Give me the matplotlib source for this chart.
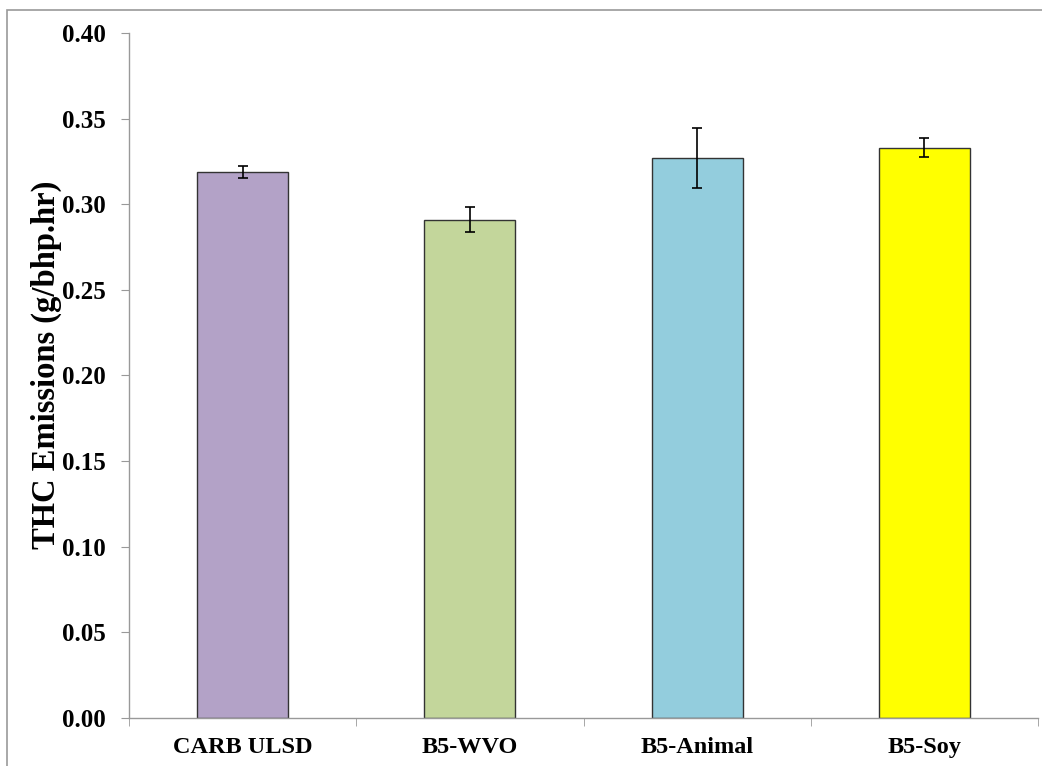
import matplotlib.pyplot as plt
from matplotlib.patches import Rectangle

# THC emissions per fuel
fuels = ['CARB ULSD', 'B5-WVO', 'B5-Animal', 'B5-Soy']
thc = [0.319, 0.291, 0.327, 0.333]
thc_err = [0.0035, 0.0073, 0.0177, 0.0055]
colors = ['#B3A2C7', '#C3D69B', '#93CDDD', '#FFFF00']

plt.rcParams['font.family'] = ['Liberation Serif', 'DejaVu Serif']
plt.rcParams['font.weight'] = 'bold'

fig = plt.figure(figsize=(10.42, 7.66), dpi=100)
ax = fig.add_axes([0.1238, 0.0627, 0.8724, 0.8942])

x = range(len(fuels))
ax.bar(x, thc, width=0.40, color=colors, edgecolor='#333333', linewidth=1.0, zorder=2)
ax.errorbar(x, thc, yerr=thc_err, fmt='none', ecolor='black', elinewidth=1.2,
            capsize=3.5, capthick=1.2, zorder=3)

ax.set_xlim(-0.5, len(fuels) - 0.5)
ax.set_ylim(0, 0.40)
ax.set_yticks([i * 0.05 for i in range(9)])
ax.set_yticklabels(['%.2f' % (i * 0.05) for i in range(9)], fontsize=18, fontweight='bold')
ax.set_xticks(list(x))
ax.set_xticklabels(fuels, fontsize=17.5, fontweight='bold')
ax.set_xticks([i - 0.5 for i in range(len(fuels) + 1)], minor=True)

ax.tick_params(axis='x', which='major', length=0, pad=14)
ax.tick_params(axis='x', which='minor', length=6, color='#999999', direction='out')
ax.tick_params(axis='y', length=6, color='#999999', direction='out', pad=11)

for side in ['top', 'right']:
    ax.spines[side].set_visible(False)
for side in ['left', 'bottom']:
    ax.spines[side].set_color('#999999')
    ax.spines[side].set_linewidth(1.0)

ax.set_ylabel('THC Emissions (g/bhp.hr)', fontsize=23.5, fontweight='bold', labelpad=1)
ax.yaxis.set_label_coords(-0.074, 0.515)

# outer chart border
fig.patches.append(Rectangle((7 / 1042, -0.05), 1.1, 1 - 10 / 766 + 0.05,
                             transform=fig.transFigure, fill=False,
                             edgecolor='#999999', linewidth=1.2))

fig.savefig('out.png', dpi=100)
